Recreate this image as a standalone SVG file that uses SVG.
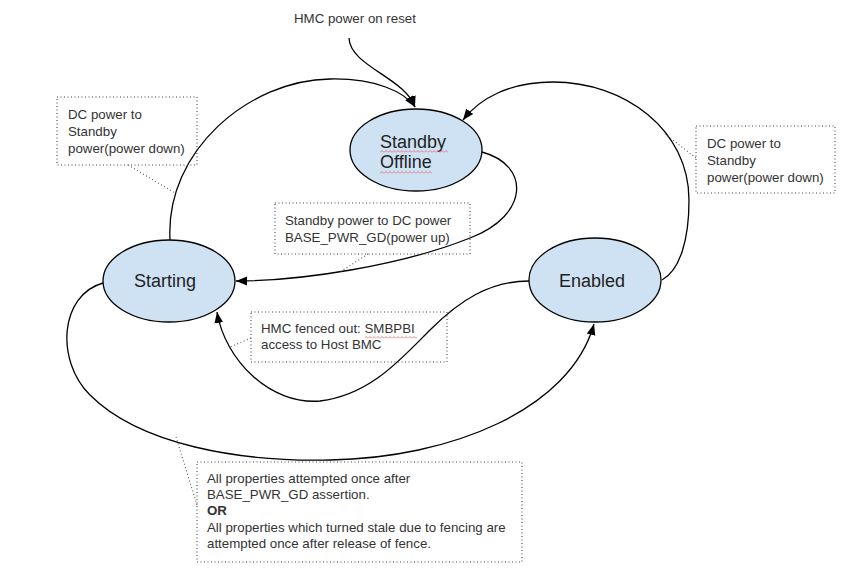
<svg xmlns="http://www.w3.org/2000/svg" width="867" height="579" viewBox="0 0 867 579">
<style>
.state{fill:#cfe2f3;stroke:#000;stroke-width:1.3}
.st{font-family:"Liberation Sans",Arial,sans-serif;font-size:18px;fill:#222}
.lbl{font-family:"Liberation Sans",Arial,sans-serif;font-size:13.3px;fill:#333}
.conn{fill:none;stroke:#000;stroke-width:1.3}
.box{fill:none;stroke:#444;stroke-width:1.1;stroke-dasharray:1 2.5}
.lead{fill:none;stroke:#555;stroke-width:1.1;stroke-dasharray:1 2.5}
</style>
<defs>
<marker id="arrow" viewBox="0 0 10 10" refX="10" refY="5" markerWidth="11" markerHeight="11" markerUnits="userSpaceOnUse" orient="auto">
<path d="M0,1 L10,5 L0,9 z" fill="#000"/>
</marker>
<pattern id="sq" width="4" height="3" patternUnits="userSpaceOnUse">
<path d="M0,2.5 L2,0.5 L4,2.5" fill="none" stroke="#e06666" stroke-width="0.8"/>
</pattern>
</defs>
<rect width="867" height="579" fill="#fff"/>

<g id="connectors">
<path class="conn" d="M349,38 C350,66 405,78 415,107" marker-end="url(#arrow)"/>
<path class="conn" d="M170,240 C165,150 250,80 330,79 C375,78 405,92 415,107" marker-end="url(#arrow)"/>
<path class="conn" d="M662,280 C680,270 689,240 689,200 C689,130 625,82 553,82 C510,82 480,98 463,120" marker-end="url(#arrow)"/>
<path class="conn" d="M482,152 C530,165 530,215 470,238 C400,266 300,281 236,281" marker-end="url(#arrow)"/>
<path class="conn" d="M529,281 C490,281 460,300 430,330 C400,360 370,395 320,401 C270,405 225,360 217,312" marker-end="url(#arrow)"/>
<path class="conn" d="M103,283 C60,295 55,360 90,395 C140,445 240,462 330,460 C450,458 570,410 594,324" marker-end="url(#arrow)"/>
</g>

<g id="n-standby">
<ellipse class="state" cx="416" cy="150" rx="66" ry="41"/>
<text class="st" x="380" y="148">Standby</text>
<text class="st" x="380" y="168">Offline</text>
<rect x="380" y="150" width="68" height="3" fill="url(#sq)"/>
<rect x="380" y="171" width="52" height="3" fill="url(#sq)"/>
</g>

<g id="n-starting">
<ellipse class="state" cx="169" cy="281" rx="66" ry="41"/>
<text class="st" x="165" y="287" text-anchor="middle">Starting</text>
</g>

<g id="n-enabled">
<ellipse class="state" cx="595" cy="280" rx="66" ry="42"/>
<text class="st" x="592" y="287" text-anchor="middle">Enabled</text>
</g>

<g id="n-reset">
<text class="lbl" x="294" y="23">HMC power on reset</text>
</g>

<g id="note-dc-down-left">
<rect class="box" x="57" y="97" width="140" height="68"/>
<text class="lbl" x="68" y="119">DC power to</text>
<text class="lbl" x="68" y="136">Standby</text>
<text class="lbl" x="68" y="153">power(power down)</text>
<path class="lead" d="M128,165 L175,193"/>
</g>

<g id="note-dc-down-right">
<rect class="box" x="696" y="126" width="139" height="67"/>
<text class="lbl" x="707" y="148">DC power to</text>
<text class="lbl" x="707" y="165">Standby</text>
<text class="lbl" x="707" y="182">power(power down)</text>
<path class="lead" d="M696,158 L664,133"/>
</g>

<g id="note-power-up">
<rect class="box" x="275" y="203" width="195" height="51"/>
<text class="lbl" x="285" y="225">Standby power to DC power</text>
<text class="lbl" x="285" y="242">BASE_PWR_GD(power up)</text>
<path class="lead" d="M368,254 L340,272"/>
</g>

<g id="note-fenced">
<rect class="box" x="251" y="312" width="196" height="50"/>
<text class="lbl" x="261" y="333">HMC fenced out: SMBPBI</text>
<text class="lbl" x="261" y="349">access to Host BMC</text>
<rect x="365" y="336" width="52" height="3" fill="url(#sq)"/>
<path class="lead" d="M251,338 L230,347"/>
</g>

<g id="note-properties">
<rect class="box" x="197" y="462" width="325" height="100"/>
<text class="lbl" x="207" y="483">All properties attempted once after</text>
<text class="lbl" x="207" y="499">BASE_PWR_GD assertion.</text>
<text class="lbl" x="207" y="515" font-weight="bold" fill="#000">OR</text>
<text class="lbl" x="207" y="532">All properties which turned stale due to fencing are</text>
<text class="lbl" x="207" y="548">attempted once after release of fence.</text>
<path class="lead" d="M176,437 L197,505"/>
</g>
</svg>
